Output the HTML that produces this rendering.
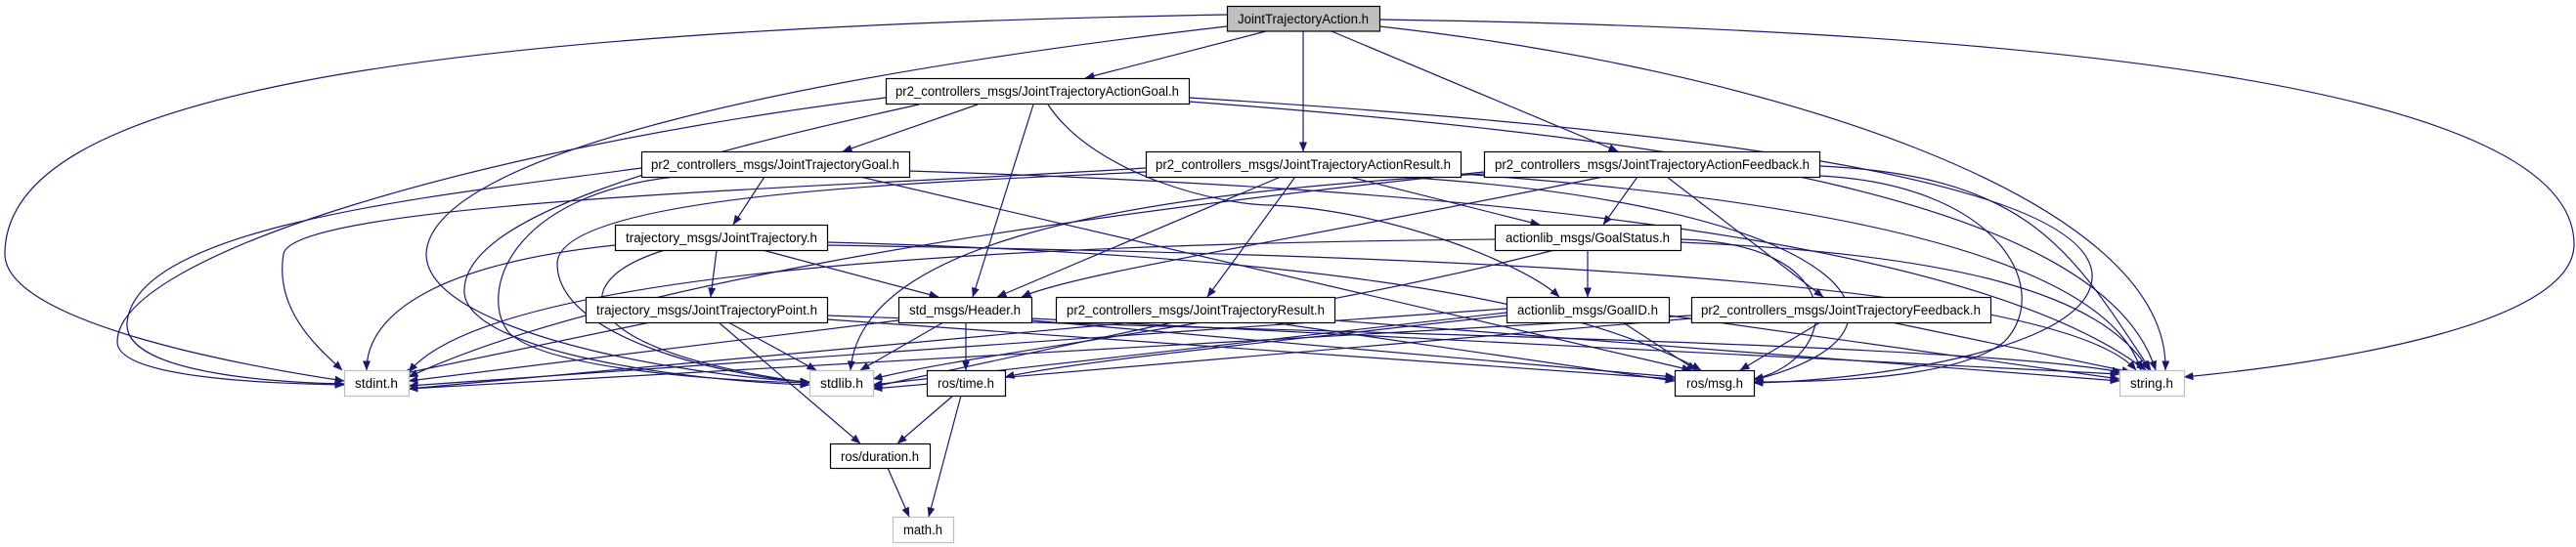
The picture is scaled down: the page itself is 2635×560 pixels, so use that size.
<!DOCTYPE html>
<html><head><meta charset="utf-8"><style>
html,body{margin:0;padding:0;background:#fff;}
svg{display:block;}
text{font-family:"Liberation Sans",sans-serif;font-size:13.5px;fill:#000;}
</style></head><body>
<svg width="2635" height="560" viewBox="0 0 2635 560" xmlns="http://www.w3.org/2000/svg">
<defs>
<marker id="a" markerWidth="10" markerHeight="8" refX="9.5" refY="4" orient="auto" markerUnits="userSpaceOnUse">
<path d="M0,0 L10,4 L0,8 z" fill="#191970"/>
</marker>
</defs>
<g fill="none" stroke="#191970" stroke-width="1.2" marker-end="url(#a)">
<!-- JTA -->
<path d="M1255,15 C400,30 5,100 5,260 C5,330 250,375 352,390"/>
<path d="M1255,27 C800,80 440,160 436,260 C436,340 700,385 828,391"/>
<path d="M1295,32 L1110,80"/>
<path d="M1333,32 L1333,155"/>
<path d="M1362,32 L1655,155"/>
<path d="M1411,20 C2100,30 2633,90 2633,250 C2633,330 2400,370 2234,386"/>
<path d="M1411,27 C1800,70 2220,200 2215,379"/>
<!-- AG -->
<path d="M1000,107 L862,155"/>
<path d="M1057,107 L995,304"/>
<path d="M1072,107 C1120,180 1250,210 1300,210 C1420,215 1560,270 1595,304"/>
<path d="M906,100 C500,150 120,260 120,350 C120,390 300,393 352,394"/>
<path d="M940,107 C700,160 470,220 475,300 C480,360 700,390 828,394"/>
<path d="M1216,100 C1700,130 2130,180 2140,280 C2145,360 1900,390 1794,392"/>
<path d="M1216,104 C1700,140 2150,200 2205,379"/>
<!-- JTG -->
<path d="M782,181 L750,230"/>
<path d="M656,172 C450,200 140,230 130,330 C125,385 300,392 352,393"/>
<path d="M690,181 C520,200 490,300 520,340 C560,380 750,390 828,392"/>
<path d="M880,181 L1730,379"/>
<path d="M930,175 C1400,190 2000,230 2195,379"/>
<!-- JT -->
<path d="M733,256 L727,304"/>
<path d="M780,256 L960,304"/>
<path d="M629,251 C450,270 375,320 375,379"/>
<path d="M680,256 C570,290 590,360 828,392"/>
<path d="M846,248 C1300,260 1600,300 1740,379"/>
<path d="M846,251 C1400,260 2100,280 2185,379"/>
<!-- JTP -->
<path d="M735,330 L880,454"/>
<path d="M745,330 L835,379"/>
<path d="M665,330 L410,383"/>
<path d="M846,327 L1713,388"/>
<path d="M846,323 C1300,340 2000,350 2170,381"/>
<!-- Header -->
<path d="M988,330 L988,379"/>
<path d="M965,330 L880,379"/>
<path d="M919,328 L418,390"/>
<path d="M1055,328 L1713,386"/>
<path d="M1055,326 L2168,383"/>
<!-- AR -->
<path d="M1310,181 L1020,304"/>
<path d="M1325,181 L1235,304"/>
<path d="M1380,181 L1575,230"/>
<path d="M1172,172 C900,190 300,205 290,260 C280,320 330,360 350,379"/>
<path d="M1172,176 C1000,185 570,195 570,270 C570,350 760,388 828,391"/>
<path d="M1430,181 C1900,210 1990,340 1794,389"/>
<path d="M1494,178 C1800,200 2150,250 2190,379"/>
<!-- AF -->
<path d="M1675,181 L1640,230"/>
<path d="M1705,181 L1865,304"/>
<path d="M1640,181 C1300,250 1100,280 1045,304"/>
<path d="M1518,178 C1100,200 880,260 870,379"/>
<path d="M1518,176 C1000,230 600,300 418,386"/>
<path d="M1862,180 C2050,190 2100,300 2050,350 C2000,390 1850,391 1794,391"/>
<path d="M1862,170 C2080,180 2120,260 2200,379"/>
<!-- GS -->
<path d="M1624,256 L1624,304"/>
<path d="M1529,245 C1000,250 500,280 418,381"/>
<path d="M1590,256 C1300,330 1000,360 893,388"/>
<path d="M1719,245 C1900,250 1880,370 1794,388"/>
<path d="M1719,248 C2000,260 2150,300 2198,379"/>
<!-- GID -->
<path d="M1541,323 C1300,350 1100,370 1028,386"/>
<path d="M1660,330 L1735,379"/>
<path d="M1541,316 L418,395"/>
<path d="M1541,320 L893,394"/>
<path d="M1707,323 L2168,388"/>
<!-- JTR -->
<path d="M1160,330 L418,398"/>
<path d="M1200,330 L893,396"/>
<path d="M1300,330 L1713,390"/>
<path d="M1365,328 L2168,390"/>
<!-- JTF -->
<path d="M1862,330 L1780,379"/>
<path d="M1935,330 L2180,381"/>
<path d="M1730,323 L418,398"/>
<path d="M1730,326 L893,398"/>
<!-- time/duration -->
<path d="M975,405 L918,454"/>
<path d="M983,405 L950,529"/>
<path d="M908,479 L930,529"/>
</g>
<g stroke-width="1.2">
<rect x="1255.5" y="6.5" width="156" height="25.5" fill="#bfbfbf" stroke="#000"/>
<text x="1333" y="24" text-anchor="middle" textLength="134" lengthAdjust="spacingAndGlyphs">JointTrajectoryAction.h</text>

<rect x="906.5" y="80.5" width="310" height="26" fill="#fff" stroke="#000"/>
<text x="1061" y="98" text-anchor="middle" textLength="290" lengthAdjust="spacingAndGlyphs">pr2_controllers_msgs/JointTrajectoryActionGoal.h</text>

<rect x="656.5" y="155.5" width="274" height="26" fill="#fff" stroke="#000"/>
<text x="793" y="173" text-anchor="middle" textLength="254" lengthAdjust="spacingAndGlyphs">pr2_controllers_msgs/JointTrajectoryGoal.h</text>

<rect x="1172.5" y="155.5" width="322" height="26" fill="#fff" stroke="#000"/>
<text x="1333" y="173" text-anchor="middle" textLength="302" lengthAdjust="spacingAndGlyphs">pr2_controllers_msgs/JointTrajectoryActionResult.h</text>

<rect x="1518.5" y="155.5" width="343" height="26" fill="#fff" stroke="#000"/>
<text x="1690" y="173" text-anchor="middle" textLength="322" lengthAdjust="spacingAndGlyphs">pr2_controllers_msgs/JointTrajectoryActionFeedback.h</text>

<rect x="629.5" y="230.5" width="217" height="26" fill="#fff" stroke="#000"/>
<text x="738" y="248" text-anchor="middle" textLength="196" lengthAdjust="spacingAndGlyphs">trajectory_msgs/JointTrajectory.h</text>

<rect x="1529.5" y="230.5" width="190" height="26" fill="#fff" stroke="#000"/>
<text x="1624" y="248" text-anchor="middle" textLength="168" lengthAdjust="spacingAndGlyphs">actionlib_msgs/GoalStatus.h</text>

<rect x="599.5" y="304.5" width="247" height="26" fill="#fff" stroke="#000"/>
<text x="723" y="322" text-anchor="middle" textLength="226" lengthAdjust="spacingAndGlyphs">trajectory_msgs/JointTrajectoryPoint.h</text>

<rect x="919.5" y="304.5" width="136" height="26" fill="#fff" stroke="#000"/>
<text x="987" y="322" text-anchor="middle" textLength="114" lengthAdjust="spacingAndGlyphs">std_msgs/Header.h</text>

<rect x="1080.5" y="304.5" width="285" height="26" fill="#fff" stroke="#000"/>
<text x="1223" y="322" text-anchor="middle" textLength="264" lengthAdjust="spacingAndGlyphs">pr2_controllers_msgs/JointTrajectoryResult.h</text>

<rect x="1541.5" y="304.5" width="166" height="26" fill="#fff" stroke="#000"/>
<text x="1624" y="322" text-anchor="middle" textLength="144" lengthAdjust="spacingAndGlyphs">actionlib_msgs/GoalID.h</text>

<rect x="1730.5" y="304.5" width="306" height="26" fill="#fff" stroke="#000"/>
<text x="1883" y="322" text-anchor="middle" textLength="286" lengthAdjust="spacingAndGlyphs">pr2_controllers_msgs/JointTrajectoryFeedback.h</text>

<rect x="352.5" y="379.5" width="66" height="26" fill="#fff" stroke="#bfbfbf"/>
<text x="385" y="397" text-anchor="middle" textLength="44" lengthAdjust="spacingAndGlyphs">stdint.h</text>

<rect x="828.5" y="379.5" width="65" height="26" fill="#fff" stroke="#bfbfbf"/>
<text x="861" y="397" text-anchor="middle" textLength="44" lengthAdjust="spacingAndGlyphs">stdlib.h</text>

<rect x="948.5" y="379.5" width="80" height="26" fill="#fff" stroke="#000"/>
<text x="988" y="397" text-anchor="middle" textLength="58" lengthAdjust="spacingAndGlyphs">ros/time.h</text>

<rect x="1713.5" y="379.5" width="81" height="26" fill="#fff" stroke="#000"/>
<text x="1754" y="397" text-anchor="middle" textLength="58" lengthAdjust="spacingAndGlyphs">ros/msg.h</text>

<rect x="2168.5" y="379.5" width="66" height="26" fill="#fff" stroke="#bfbfbf"/>
<text x="2201" y="397" text-anchor="middle" textLength="44" lengthAdjust="spacingAndGlyphs">string.h</text>

<rect x="849.5" y="454.5" width="102" height="25" fill="#fff" stroke="#000"/>
<text x="900" y="472" text-anchor="middle" textLength="80" lengthAdjust="spacingAndGlyphs">ros/duration.h</text>

<rect x="913.5" y="529.5" width="62" height="26" fill="#fff" stroke="#bfbfbf"/>
<text x="944" y="547" text-anchor="middle" textLength="40" lengthAdjust="spacingAndGlyphs">math.h</text>
</g>
</svg>
</body></html>
